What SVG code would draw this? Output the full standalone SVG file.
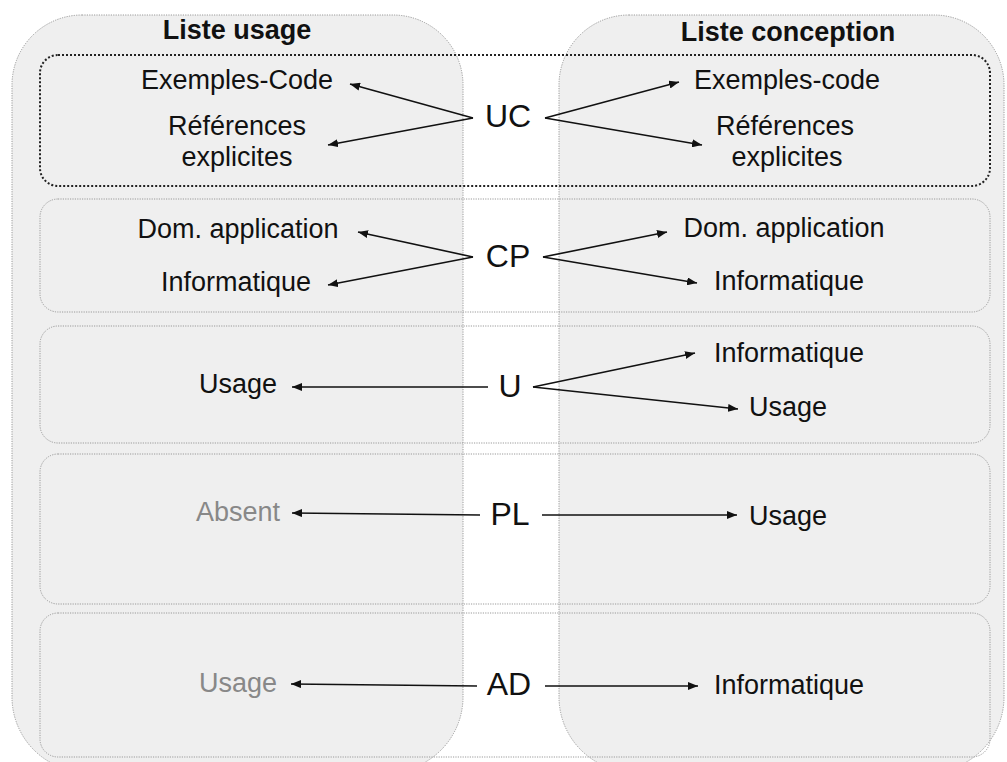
<svg xmlns="http://www.w3.org/2000/svg" width="1007" height="762" viewBox="0 0 1007 762">
<style>
.col{fill:#efefef;stroke:#9a9a9a;stroke-width:1;stroke-dasharray:1.2 1.2}
.band{fill:none;stroke:#9a9a9a;stroke-width:1;stroke-dasharray:1.2 1.2}
.bandk{fill:none;stroke:#222;stroke-width:2;stroke-dasharray:2 2}
.t{font-family:"Liberation Sans",Arial,sans-serif;font-size:27px;fill:#111;text-anchor:middle}
.g{fill:#888}
.h{font-family:"Liberation Sans",Arial,sans-serif;font-size:27px;font-weight:bold;fill:#111;text-anchor:middle}
.c{font-family:"Liberation Sans",Arial,sans-serif;font-size:32px;fill:#111;text-anchor:middle}
.a{stroke:#111;stroke-width:1.6;fill:none;marker-end:url(#ah)}
</style>
<defs>
<marker id="ah" markerUnits="userSpaceOnUse" markerWidth="11" markerHeight="8" refX="10" refY="4" orient="auto">
<path d="M0,0 L10,4 L0,8 z" fill="#111"/>
</marker>
</defs>
<rect width="1007" height="762" fill="#fff"/>
<g id="col-usage">
<path class="col" d="M 82 15 H 393 A 70 70 0 0 1 463 85 V 697 A 75 75 0 0 1 388 772 H 87 A 75 75 0 0 1 12 697 V 85 A 70 70 0 0 1 82 15 Z"/>
<text class="h" x="237" y="39">Liste usage</text>
</g>
<g id="col-conception">
<path class="col" d="M 629 15 H 934 A 70 70 0 0 1 1004 85 V 697 A 75 75 0 0 1 929 772 H 634 A 75 75 0 0 1 559 697 V 85 A 70 70 0 0 1 629 15 Z"/>
<text class="h" x="788" y="41">Liste conception</text>
</g>
<g id="band-uc">
<rect class="bandk" x="40" y="55" width="950" height="131" rx="18"/>
<text class="c" x="508" y="127">UC</text>
<text class="t" x="237" y="89">Exemples-Code</text>
<text class="t" x="237" y="135">Références</text>
<text class="t" x="237" y="166">explicites</text>
<text class="t" x="787" y="89">Exemples-code</text>
<text class="t" x="785" y="135">Références</text>
<text class="t" x="787" y="166">explicites</text>
</g>
<g id="band-cp">
<rect class="band" x="40" y="199" width="950" height="113" rx="18"/>
<text class="c" x="508" y="267">CP</text>
<text class="t" x="238" y="238">Dom. application</text>
<text class="t" x="236" y="291">Informatique</text>
<text class="t" x="784" y="237">Dom. application</text>
<text class="t" x="789" y="290">Informatique</text>
</g>
<g id="band-u">
<rect class="band" x="40" y="326" width="950" height="117" rx="18"/>
<text class="c" x="510" y="397">U</text>
<text class="t" x="238" y="393">Usage</text>
<text class="t" x="789" y="362">Informatique</text>
<text class="t" x="788" y="416">Usage</text>
</g>
<g id="band-pl">
<rect class="band" x="40" y="454" width="950" height="150" rx="18"/>
<text class="c" x="510" y="525">PL</text>
<text class="t g" x="238" y="521">Absent</text>
<text class="t" x="788" y="525">Usage</text>
</g>
<g id="band-ad">
<rect class="band" x="40" y="613" width="950" height="144" rx="18"/>
<text class="c" x="509" y="695">AD</text>
<text class="t g" x="238" y="692">Usage</text>
<text class="t" x="789" y="694">Informatique</text>
</g>
<g id="connectors">
<line class="a" x1="473" y1="118" x2="350" y2="84"/>
<line class="a" x1="473" y1="118" x2="328" y2="145"/>
<line class="a" x1="545" y1="118" x2="679" y2="82"/>
<line class="a" x1="545" y1="118" x2="702" y2="145"/>
<line class="a" x1="473" y1="257" x2="358" y2="232"/>
<line class="a" x1="473" y1="257" x2="328" y2="285"/>
<line class="a" x1="543" y1="257" x2="667" y2="232"/>
<line class="a" x1="543" y1="257" x2="697" y2="283"/>
<line class="a" x1="488" y1="387" x2="292" y2="387"/>
<line class="a" x1="533" y1="387" x2="695" y2="353"/>
<line class="a" x1="533" y1="387" x2="738" y2="409"/>
<line class="a" x1="480" y1="515" x2="292" y2="513"/>
<line class="a" x1="542" y1="515" x2="737" y2="515"/>
<line class="a" x1="477" y1="686" x2="291" y2="684"/>
<line class="a" x1="545" y1="686" x2="698" y2="686"/>
</g>
</svg>
